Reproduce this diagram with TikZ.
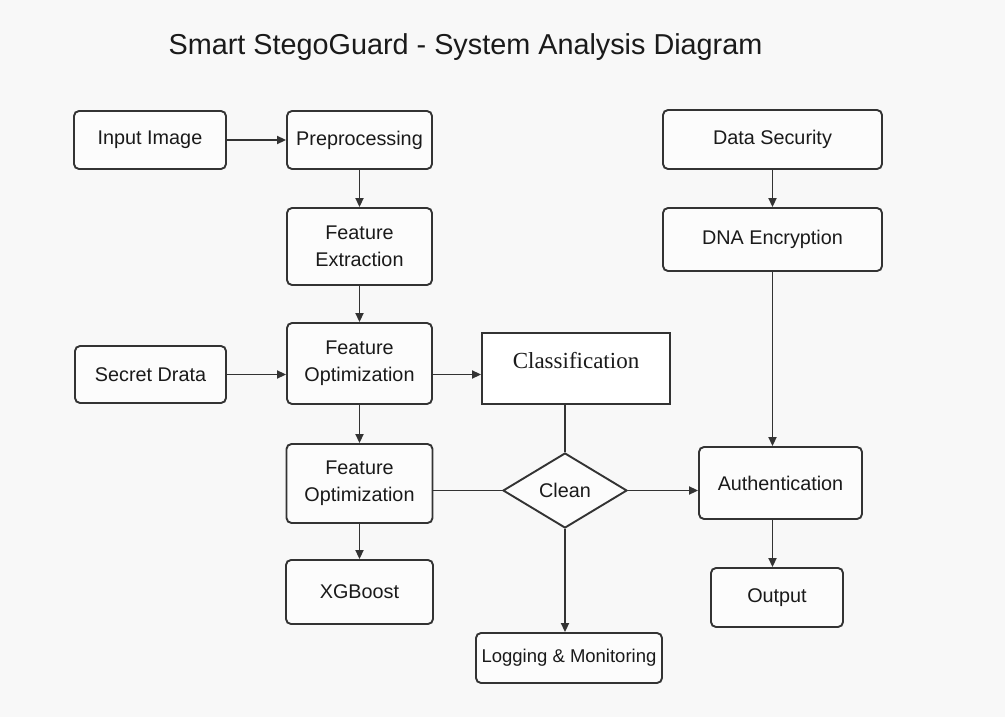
\documentclass[tikz,border=0pt]{standalone}
\usepackage{fontspec}
\setmainfont{Liberation Sans}
\newfontfamily\serifface{Liberation Serif}
\usetikzlibrary{arrows.meta,shapes.geometric}
\definecolor{ink}{HTML}{333333}
\definecolor{txt}{HTML}{1A1A1A}
\definecolor{paper}{HTML}{F8F8F8}
\tikzset{
  box/.style={draw=ink, line width=1.9pt, rounded corners=5pt, fill=white!60!paper,
    align=center, text=txt, font=\fontsize{19.8}{27}\selectfont, inner sep=0pt},
  sqbox/.style={draw=ink, line width=1.9pt, fill=white, text=txt,
    font=\serifface\fontsize{23}{27}\selectfont, inner sep=0pt},
  decision/.style={diamond, draw=ink, line width=1.9pt, fill=white!60!paper, text=txt,
    font=\fontsize{19.8}{27}\selectfont, inner sep=0pt},
  flow/.style={draw=ink, line width=1.9pt, -{Triangle[length=9pt,width=8pt]}},
  link/.style={draw=ink, line width=1.9pt},
}
\begin{document}
\begin{tikzpicture}[x=1pt,y=-1pt]
  \fill[paper] (0,0) rectangle (1005,717);
  \useasboundingbox (0,0) rectangle (1005,717);

  \node[text=txt, font=\fontsize{28.8}{34}\selectfont] (title) at (465.5,47)
    {Smart StegoGuard - System Analysis Diagram};

  % left column
  \node[box, minimum width=152pt, minimum height=58pt] (inp)  at (150,140)   {Input Image};
  \node[box, minimum width=145pt, minimum height=58pt] (pre)  at (359.5,140) {Preprocessing};
  \node[box, minimum width=145pt, minimum height=77pt] (fext) at (359.5,246.5) {Feature\\Extraction};
  \node[box, minimum width=151pt, minimum height=57pt] (sec)  at (150.5,374.5) {Secret Drata};
  \node[box, minimum width=145pt, minimum height=81pt] (fo1)  at (359.5,363.5) {Feature\\Optimization};
  \node[box, minimum width=146pt, minimum height=79pt] (fo2)  at (359.5,483.5) {Feature\\Optimization};
  \node[box, minimum width=147pt, minimum height=64pt] (xgb)  at (359.5,592)   {XGBoost};

  % middle column
  \node[sqbox, minimum width=188pt, minimum height=71pt, text height=12pt, text depth=12pt]
    (cls) at (576,368.5) {Classification};
  \node[decision, minimum width=124pt, minimum height=75pt] (dia) at (565,490.5) {Clean};
  \node[box, minimum width=186pt, minimum height=50pt, font=\fontsize{18.5}{22}\selectfont]
    (log) at (569,658) {Logging \& Monitoring};

  % right column
  \node[box, minimum width=219pt, minimum height=59pt] (ds)   at (772.5,139.5) {Data Security};
  \node[box, minimum width=219pt, minimum height=63pt] (dna)  at (772.5,239.5) {DNA Encryption};
  \node[box, minimum width=163pt, minimum height=72pt] (auth) at (780.5,483)   {Authentication};
  \node[box, minimum width=132pt, minimum height=59pt] (out)  at (777,597.5)   {Output};

  % connectors
  \draw[flow] (inp) -- (pre);
  \draw[flow] (pre) -- (fext);
  \draw[flow] (fext) -- (fo1);
  \draw[flow] (sec.east) -- (sec.east -| fo1.west);
  \draw[flow] (fo1.east |- sec.east) -- (cls.west |- sec.east);
  \draw[flow] (fo1) -- (fo2);
  \draw[flow] (fo2) -- (xgb);
  \draw[link] (cls.south -| dia.north) -- (dia.north);
  \draw[link] (fo2.east |- dia.west) -- (dia.west);
  \draw[flow] (dia.east) -- (dia.east -| auth.west);
  \draw[flow] (dia.south) -- (dia.south |- log.north);
  \draw[flow] (ds) -- (dna);
  \draw[flow] (dna.south) -- (dna.south |- auth.north);
  \draw[flow] (auth.south -| dna.south) -- (out.north -| dna.south);
\end{tikzpicture}
\end{document}
